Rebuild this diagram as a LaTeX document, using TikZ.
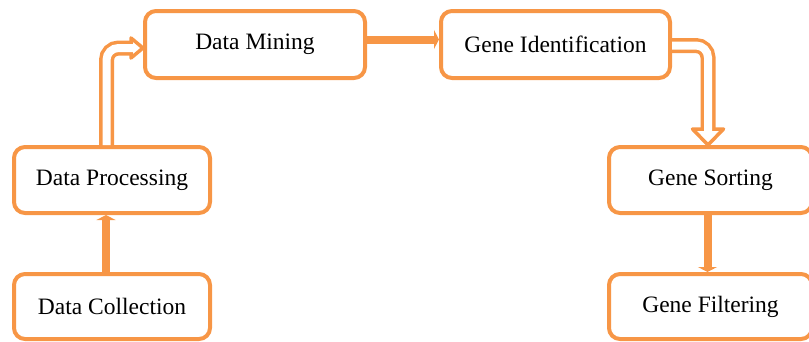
\documentclass[tikz,border=0pt]{standalone}
\usepackage{fontspec}
\setmainfont{Liberation Serif}
\usetikzlibrary{arrows.meta,calc}
\definecolor{org}{RGB}{247,150,70}
\begin{document}
\begin{tikzpicture}[x=1pt,y=-1pt,
  box/.style={draw=org, line width=4pt, rounded corners=11pt, fill=white, inner sep=0pt,
    font=\fontsize{23.5}{28}\selectfont, text=black},
  thickarrow/.style={draw=org, line width=8pt, -{Triangle[width=19pt,length=5pt]}},
  dbl/.style={draw=org, line width=3.5pt, double=white, double distance=8pt, rounded corners=12pt},
  head/.style={draw=org, fill=white, line width=3.5pt, line join=round}]
\useasboundingbox (0,0) rectangle (809,341);
\node[box, minimum width=220pt, minimum height=67pt] (dm) at (255,44.5) {Data Mining};
\node[box, minimum width=229pt, minimum height=67pt] (gi) at (555.5,44.5) {Gene Identification};
\node[box, minimum width=196pt, minimum height=66pt] (dp) at (112,180) {Data Processing};
\node[box, minimum width=196pt, minimum height=65pt] (dc) at (112,306.5) {Data Collection};
\node[box, minimum width=203pt, minimum height=66pt] (gs) at (710.5,180) {Gene Sorting};
\node[box, minimum width=203pt, minimum height=65pt] (gf) at (710.5,306.5) {Gene Filtering};
% thick arrows
\draw[thickarrow] ($(dc.north)+(-6,0)$) -- ($(dp.south)+(-6,0)$);
\draw[thickarrow] ($(dm.east)+(0,-5)$) -- ($(gi.west)+(0,-5)$);
\draw[thickarrow] ($(gs.south)+(-3,0)$) -- ($(gf.north)+(-3,0)$);
% double arrow: Data Processing -> Data Mining
\draw[head] ($(dm.west)+(-12,-6.5)$) -- ($(dm.west)+(-12,13.5)$) -- ($(dm.west)+(0,3.5)$) -- cycle;
\draw[dbl] ($(dp.north)+(-5.5,0)$) |- ($(dm.west)+(-10.25,3.5)$);
% double arrow: Gene Identification -> Gene Sorting
\draw[head] ($(gs.north)+(-18,-16)$) -- ($(gs.north)+(13,-16)$) -- ($(gs.north)+(-2.5,0)$) -- cycle;
\draw[dbl] ($(gi.east)+(0,1)$) -| ($(gs.north)+(-2.5,-14.25)$);
\end{tikzpicture}
\end{document}
